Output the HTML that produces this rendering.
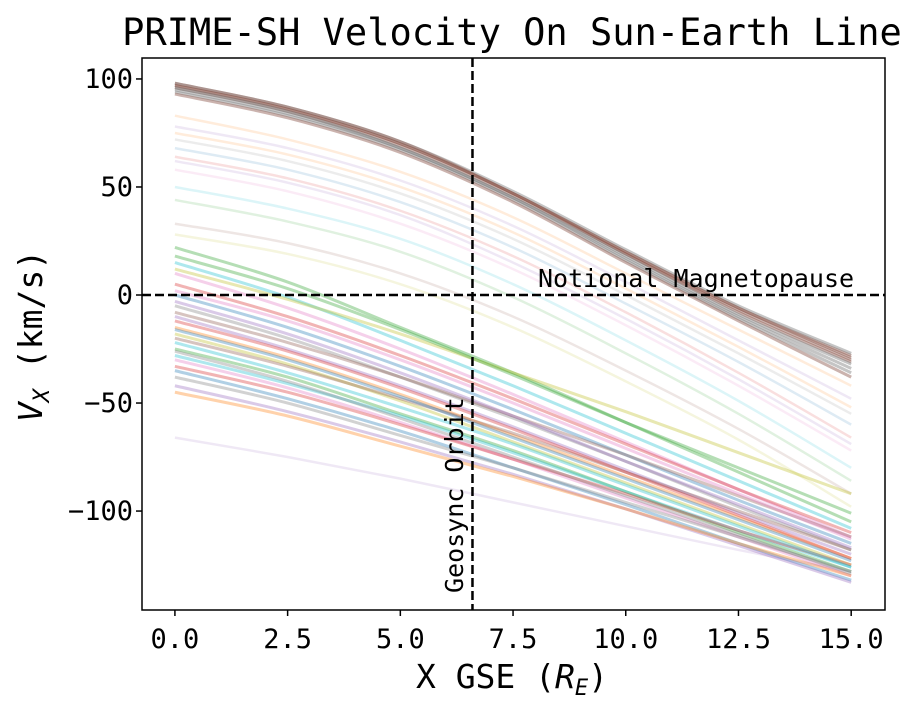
<!DOCTYPE html>
<html><head><meta charset="utf-8">
<style>
html,body{margin:0;padding:0;background:#fff;}
svg{display:block;font-family:"DejaVu Sans Mono","Liberation Mono",monospace;}
</style></head>
<body>
<svg id="chart" width="924" height="711" viewBox="0 0 924 711" xmlns="http://www.w3.org/2000/svg">
<text x="512" y="45" font-size="37" text-anchor="middle">PRIME-SH Velocity On Sun-Earth Line</text>
<g id="lines"></g>
<g id="axes"></g>
</svg>
<script>
const xSamples = [0, 2.5, 5, 7.5, 10, 12.5, 15];
const xTicks = [0, 2.5, 5, 7.5, 10, 12.5, 15];
const xTickLabels = ["0.0","2.5","5.0","7.5","10.0","12.5","15.0"];
const yTicks = [100, 50, 0, -50, -100];
const yTickLabels = ["100","50","0","\u221250","\u2212100"];
const topSeries = [
[97,86,70,47,20,-6,-28],[98,87,71,48,21,-5,-27],[96,85,69,46,19,-8,-31],
[95,84,68,45,17,-10,-34],[97,86,70,47,19,-7,-30],[94,83,67,44,16,-11,-36],
[98,87,71,47,20,-6,-29],[96,85,68,45,18,-9,-32],[93,82,66,43,15,-12,-38]];
const midSeries = [
[83,72,57,36,10,-16,-42],[78,68,53,32,6,-21,-48],[72,62,47,26,0,-27,-55],
[68,58,43,22,-4,-31,-60],[64,54,39,18,-8,-36,-66],[58,48,33,12,-14,-42,-72],
[50,40,26,5,-21,-49,-80],[44,34,20,-1,-27,-55,-86],[33,24,10,-10,-35,-62,-92],
[28,19,5,-15,-40,-67,-98],[75,65,50,29,3,-24,-52],[62,52,37,15,-11,-39,-69]];
const lowSeries = [
[22,6,-15,-36,-59,-82,-105],[15,-1,-21,-42,-64,-86,-108],[10,-6,-25,-46,-68,-90,-112],
[5,-10,-28,-48,-69,-90,-110],[0,-15,-33,-53,-74,-95,-115],[-5,-20,-38,-57,-77,-98,-118],
[-10,-25,-42,-61,-81,-101,-120],[-15,-29,-46,-65,-84,-103,-122],[-18,-32,-49,-68,-87,-106,-125],
[-20,-33,-48,-64,-82,-100,-118],[-25,-38,-55,-72,-91,-110,-128],[-28,-41,-56,-73,-91,-109,-126],
[-30,-43,-59,-76,-94,-112,-130],[-33,-45,-60,-76,-92,-109,-125],[-35,-48,-63,-80,-97,-115,-132],
[-38,-50,-65,-80,-96,-112,-128],[-42,-54,-68,-83,-99,-116,-133],[-45,-56,-70,-84,-99,-115,-130],
[12,-2,-18,-36,-54,-73,-92],[-8,-22,-38,-56,-74,-93,-112],[18,3,-16,-37,-59,-80,-101],
[-22,-36,-52,-69,-88,-107,-126],[2,-12,-30,-50,-71,-92,-113],[-12,-26,-43,-62,-82,-102,-122],
[-16,-30,-47,-66,-85,-104,-123],[-26,-40,-57,-75,-93,-111,-129],[-3,-18,-36,-56,-77,-97,-117]];
const loneSeries = [[-66,-75,-85,-96,-107,-118,-128]];
const palette = ["#1f77b4","#ff7f0e","#2ca02c","#d62728","#9467bd","#8c564b","#e377c2","#7f7f7f","#bcbd22","#17becf"];
const topColors = ["#8c564b","#7f7f7f","#8c564b","#7f7f7f"];

const X0=142, X1=885, Y0=58, Y1=610;
const xMin=-0.73, xMax=15.75, yMin=-145.8, yMax=109.7;
function sx(v){return X0+(v-xMin)/(xMax-xMin)*(X1-X0);}
function sy(v){return Y1-(v-yMin)/(yMax-yMin)*(Y1-Y0);}
const NS="http://www.w3.org/2000/svg";
function pathFor(vals){
  const p=vals.map((v,i)=>[sx(xSamples[i]),sy(v)]);
  let d="M"+p[0][0]+","+p[0][1];
  for(let i=0;i<p.length-1;i++){
    const a=p[Math.max(i-1,0)],b=p[i],c=p[i+1],e=p[Math.min(i+2,p.length-1)];
    const c1=[b[0]+(c[0]-a[0])/6,b[1]+(c[1]-a[1])/6],c2=[c[0]-(e[0]-b[0])/6,c[1]-(e[1]-b[1])/6];
    d+=" C"+c1+" "+c2+" "+c;
  }
  return d;
}
const lg=document.getElementById("lines");
function draw(series,colorFn,op,w,name){
  series.forEach((vals,i)=>{
    const el=document.createElementNS(NS,"path");
    el.setAttribute("d",pathFor(vals));
    el.setAttribute("fill","none");
    el.setAttribute("stroke",colorFn(i));
    el.setAttribute("stroke-opacity",op);
    el.setAttribute("stroke-width",w);
    
    
    lg.appendChild(el);
  });
}
draw(midSeries,i=>palette[(i*3+1)%10],0.15,2.5,'faint-velocity-line');
draw(lowSeries,i=>palette[(i*7+2)%10],0.35,3,'low-velocity-line');
draw(loneSeries,i=>"#9467bd",0.15,2.5,'outlier-velocity-line');
draw(topSeries,i=>topColors[i%4],0.45,3,'high-velocity-line');

const ax=document.getElementById("axes");
function add(tag,attrs,text,name){
  const el=document.createElementNS(NS,tag);
  for(const k in attrs) el.setAttribute(k,attrs[k]);
  if(text!==undefined) el.textContent=text;
  
  
  ax.appendChild(el); return el;
}
add("line",{x1:sx(6.6),x2:sx(6.6),y1:Y0,y2:Y1,stroke:"#000","stroke-width":2.5,"stroke-dasharray":"9,4"},undefined,'geosync-line');
add("line",{x1:X0,x2:X1,y1:sy(0),y2:sy(0),stroke:"#000","stroke-width":2.5,"stroke-dasharray":"9,4"},undefined,'magnetopause-line');
add("text",{x:538,y:287,"font-size":25},"Notional Magnetopause",'magnetopause-label');
add("text",{x:0,y:0,"font-size":25,transform:"translate(463,593) rotate(-90)"},"Geosync Orbit",'geosync-label');
add("rect",{x:X0,y:Y0,width:X1-X0,height:Y1-Y0,fill:"none",stroke:"#000","stroke-width":1.5},undefined,'plot-frame');
xTicks.forEach((t,i)=>{
  add("line",{x1:sx(t),x2:sx(t),y1:Y1,y2:Y1+6,stroke:"#000","stroke-width":1.5},undefined,'x-tick');
  add("text",{x:sx(t),y:Y1+38,"font-size":27,"text-anchor":"middle"},xTickLabels[i],'x-tick-label');
});
yTicks.forEach((t,i)=>{
  add("line",{x1:X0-6,x2:X0,y1:sy(t),y2:sy(t),stroke:"#000","stroke-width":1.5},undefined,'y-tick');
  add("text",{x:X0-9,y:sy(t)+9,"font-size":27,"text-anchor":"end"},yTickLabels[i],'y-tick-label');
});
const xl=add("text",{x:512,y:688,"font-size":33,"text-anchor":"middle"},"",'x-axis-title');
xl.innerHTML='X GSE (<tspan font-style="italic">R</tspan><tspan font-style="italic" font-size="22" dy="7">E</tspan><tspan dy="-7">)</tspan>';
const yl=add("text",{x:0,y:0,"font-size":33,"text-anchor":"middle",transform:"translate(42,336) rotate(-90)"},"",'y-axis-title');
yl.innerHTML='<tspan font-style="italic">V</tspan><tspan font-style="italic" font-size="22" dy="7">X</tspan><tspan dy="-7"> (km/s)</tspan>';
</script>
</body></html>
